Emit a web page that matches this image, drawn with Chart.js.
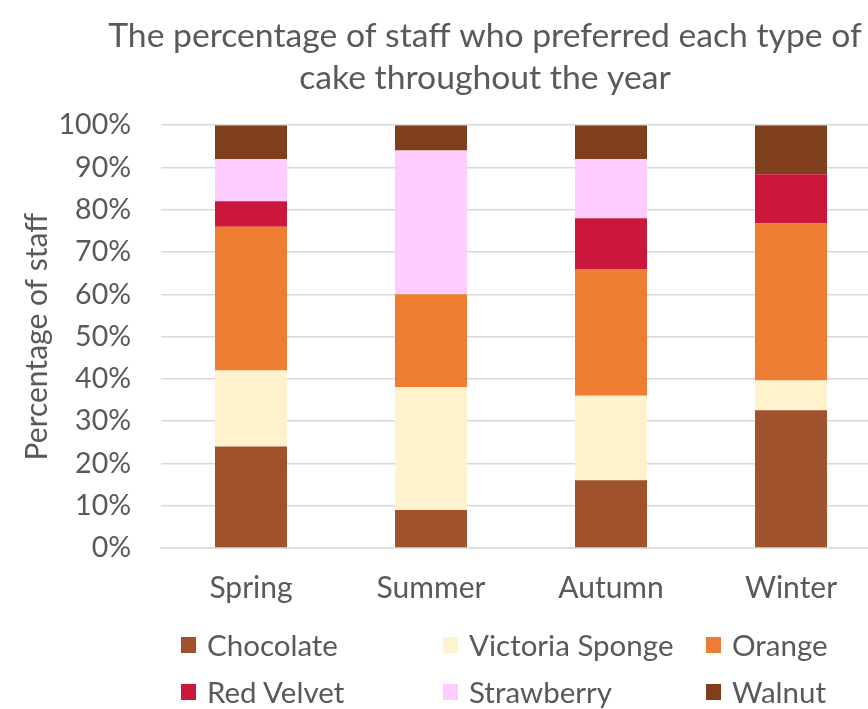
<!DOCTYPE html>
<html>
<head>
<meta charset="utf-8">
<script src="https://cdn.jsdelivr.net/npm/chart.js@4.4.1/dist/chart.umd.min.js"></script>
<style>
  html, body { margin: 0; padding: 0; background: #fff; overflow: hidden; width: 868px; height: 709px; }
  #wrap { position: absolute; left: 0; top: 0; width: 970px; height: 633px; }
  #legend { position: absolute; left: 181px; top: 621px; display: grid;
    grid-template-columns: 262px 263px 180px; font-family: Lato, sans-serif; font-size: 29.5px; color: #595959; }
  .item { display: flex; align-items: center; height: 47px; white-space: nowrap; }
  .box { width: 15px; height: 16px; margin-right: 11px; flex: none; }
</style>
</head>
<body>
<div id="wrap"><canvas id="chart"></canvas></div>
<div id="legend"></div>
<script>
// seasons along the x axis
const seasons = ["Spring", "Summer", "Autumn", "Winter"];
// % of staff per cake, one value per season
const chocolate = [24, 9, 16, 32.6];
const victoriaSponge = [18, 29, 20, 7];
const orange = [34, 22, 30, 37.2];
const redVelvet = [6, 0, 12, 11.6];
const strawberry = [10, 34, 14, 0];
const walnut = [8, 6, 8, 11.6];
const cakes = ["Chocolate", "Victoria Sponge", "Orange", "Red Velvet", "Strawberry", "Walnut"];
const cakeColors = ["#A0522D", "#FFF2CC", "#ED7D31", "#CC173C", "#FFCCFF", "#7F3F1A"];
const series = [chocolate, victoriaSponge, orange, redVelvet, strawberry, walnut];

const grey = "#595959";
const font = "Lato";

let myChart = new Chart(document.getElementById("chart"), {
  type: "bar",
  data: {
    labels: seasons,
    datasets: cakes.map((name, i) => ({
      label: name,
      data: series[i],
      backgroundColor: cakeColors[i],
      borderWidth: 0,
      barPercentage: 0.4,
      categoryPercentage: 1,
    })),
  },
  options: {
    responsive: true,
    maintainAspectRatio: false,
    animation: false,
    layout: { padding: { bottom: 5 } },
    plugins: {
      tooltip: false,
      legend: { display: false },
      title: {
        display: true,
        text: ["The percentage of staff who preferred each type of", "cake throughout the year"],
        color: grey,
        font: { family: font, size: 33.7, weight: "normal", lineHeight: 1.22 },
        padding: { top: 16, bottom: 27 },
      },
    },
    scales: {
      x: {
        stacked: true,
        grid: { display: false, drawTicks: false },
        border: { color: "#D9D9D9", width: 1.5 },
        ticks: { color: grey, font: { family: font, size: 30 }, padding: 22 },
      },
      y: {
        stacked: true,
        min: 0,
        max: 100,
        grid: { color: "#D9D9D9", lineWidth: 1.5, drawTicks: false },
        border: { display: false },
        ticks: { stepSize: 10, color: grey, font: { family: font, size: 28.5 }, padding: 30,
          callback: (v) => v + "%" },
        title: { display: true, text: "Percentage of staff", color: grey,
          font: { family: font, size: 30 }, padding: { top: 19, bottom: 0 } },
        afterFit: (s) => { s.width = 161; },
      },
      //empty axis on the right so the plot ends where the picture cuts it
      yRight: {
        position: "right",
        grid: { display: false, drawTicks: false },
        border: { display: false },
        ticks: { display: false },
        afterFit: (s) => { s.width = 89; },
      },
    },
  },
});

//html legend in three columns
const legendBox = document.getElementById("legend");
myChart.data.datasets.forEach((ds) => {
  const item = document.createElement("div");
  item.className = "item";
  item.innerHTML = `<span class="box" style="background:${ds.backgroundColor}"></span><span>${ds.label}</span>`;
  legendBox.appendChild(item);
});
</script>
</body>
</html>
